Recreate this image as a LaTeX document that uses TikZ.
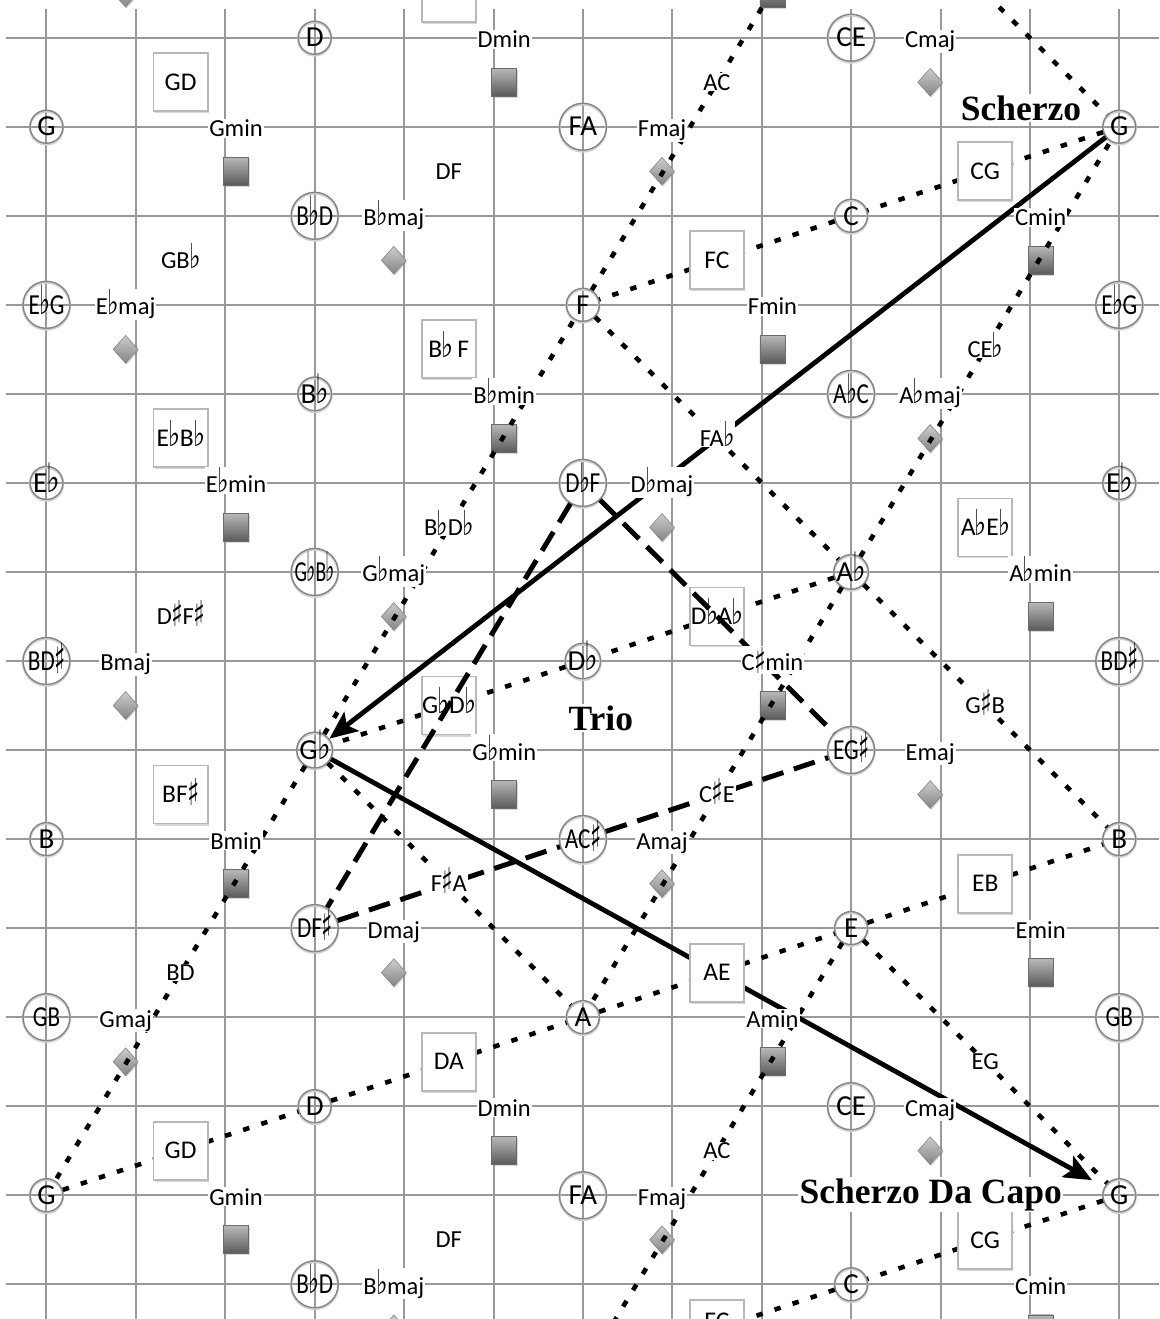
\documentclass[tikz,border=0pt]{standalone}
\usepackage{fontspec}
\usepackage{graphicx}
\usetikzlibrary{arrows.meta,shapes.geometric,shadows}
\newfontfamily\carl{Carlito}
\newfontfamily\djv{DejaVu Sans}
\newfontfamily\bser{Liberation Serif}
\definecolor{gridc}{gray}{0.60}
\definecolor{circc}{gray}{0.52}
\definecolor{boxc}{gray}{0.72}
\definecolor{sqtop}{gray}{0.72}
\definecolor{sqbot}{gray}{0.35}
\definecolor{sqedge}{gray}{0.42}
\definecolor{dtop}{gray}{0.80}
\definecolor{dbot}{gray}{0.52}
\definecolor{dedge}{gray}{0.52}
\newcommand\flt{\kern-0.6pt\scalebox{1.0}[1.4]{\djv ♭}\kern-0.6pt}
\newcommand\shp{\kern-0.6pt\raisebox{-0.1em}{\scalebox{1.0}[1.45]{\djv ♯}}\kern-0.6pt}
\newcommand\labfont{\carl\fontsize{24.5}{26}\selectfont}
\newcommand\boxfont{\carl\fontsize{25.5}{27}\selectfont}
\newcommand\cirfont{\carl\fontsize{29}{31}\selectfont}
\newcommand\bigfont{\bser\bfseries\fontsize{35.5}{40}\selectfont}
\newcommand\sq[1]{\scalebox{0.8}[1]{#1}}
\begin{document}
\begin{tikzpicture}[x=89.4pt,y=-89.04pt,
  gridln/.style={draw=gridc,line width=2pt},
  cshadow/.style={preaction={draw=black!18,line width=2.2pt,transform canvas={yshift=-1.3pt}}},
  smc/.style={circle,draw=circc,line width=1.4pt,minimum size=33pt,inner sep=0pt,font=\cirfont,text height=18.5pt,text depth=0pt,cshadow},
  lgc/.style={smc,minimum size=47pt},
  fifthbox/.style={rectangle,draw=boxc,line width=1.8pt,fill=white,minimum width=54pt,minimum height=58pt,inner sep=0pt,font=\boxfont,text height=16.5pt,text depth=0pt,drop shadow={shadow xshift=1.2pt,shadow yshift=-2pt,opacity=0.35,fill=black!45}},
  chl/.style={font=\labfont,fill=white,inner sep=1pt,anchor=base,yshift=-10pt},
  dyt/.style={font=\labfont,fill=white,inner sep=1pt,anchor=base,yshift=-7.8pt},
  minsq/.style={rectangle,draw=sqedge,line width=0.6pt,top color=sqtop,bottom color=sqbot,minimum width=25pt,minimum height=28pt,inner sep=0pt,drop shadow={shadow xshift=1pt,shadow yshift=-1.5pt,opacity=0.3}},
  majdia/.style={diamond,aspect=0.89,draw=dedge,line width=0.6pt,top color=dtop,bottom color=dbot,minimum width=25pt,minimum height=28pt,inner sep=0pt,drop shadow={shadow xshift=1pt,shadow yshift=-1.5pt,opacity=0.3}},
  dotln/.style={line width=4.6pt,dash pattern=on 6.5pt off 12.5pt},
  dashln/.style={line width=5pt,dash pattern=on 22pt off 11pt},
  sarrow/.style={line width=4.8pt,-{Stealth[length=28pt,width=24pt,inset=6pt]}},
  bigl/.style={font=\bigfont,fill=white,inner sep=1.5pt,anchor=base}
]
\useasboundingbox (-0.5201,-0.4234) rectangle (12.444,14.390);
\fill[white] (-0.5201,-0.4234) rectangle (12.444,14.390);
% grid
\foreach \c in {0,...,12} \draw[gridln] (\c,-0.319) -- (\c,14.390);
\foreach \r in {0,...,14} \draw[gridln] (-0.453,\r) -- (12.444,\r);
% minor squares and major diamonds
\foreach \c/\r [count=\i] in {0/1,0/5,0/9,0/13,3/0,3/4,3/8,3/12,6/3,6/7,6/11,6/-1,9/2,9/6,9/10,9/14}
  \node[minsq] (sq\i) at (\c+2.12,\r+0.5) {};
\foreach \c/\r [count=\i] in {0/3,0/7,0/11,0/-1,3/2,3/6,3/10,3/14,6/1,6/5,6/9,6/13,9/0,9/4,9/8,9/12}
  \node[majdia] (dm\i) at (\c+0.885,\r+0.5) {};
% circles
\node[smc] (c0r1) at (0,1) {G};
\node[lgc] (c0r3) at (0,3) {\sq{E\flt G}};
\node[smc] (c0r5) at (0,5) {E\flt};
\node[lgc] (c0r7) at (0,7) {\sq{BD\shp}};
\node[smc] (c0r9) at (0,9) {B};
\node[lgc] (c0r11) at (0,11) {\sq{GB}};
\node[smc] (c0r13) at (0,13) {G};
\node[smc] (c3r0) at (3,0) {D};
\node[lgc] (c3r2) at (3,2) {\sq{B\flt D}};
\node[smc] (c3r4) at (3,4) {B\flt};
\node[lgc] (c3r6) at (3,6) {\scalebox{0.68}[1]{G\flt B\flt}};
\node[smc] (c3r8) at (3,8) {G\flt};
\node[lgc] (c3r10) at (3,10) {\sq{DF\shp}};
\node[smc] (c3r12) at (3,12) {D};
\node[lgc] (c3r14) at (3,14) {\sq{B\flt D}};
\node[lgc] (c6r1) at (6,1) {FA};
\node[smc] (c6r3) at (6,3) {F};
\node[lgc] (c6r5) at (6,5) {\sq{D\flt F}};
\node[smc] (c6r7) at (6,7) {D\flt};
\node[lgc] (c6r9) at (6,9) {\sq{AC\shp}};
\node[smc] (c6r11) at (6,11) {A};
\node[lgc] (c6r13) at (6,13) {FA};
\node[lgc] (c9r0) at (9,0) {CE};
\node[smc] (c9r2) at (9,2) {C};
\node[lgc] (c9r4) at (9,4) {\sq{A\flt C}};
\node[smc] (c9r6) at (9,6) {A\flt};
\node[lgc] (c9r8) at (9,8) {\sq{EG\shp}};
\node[smc] (c9r10) at (9,10) {E};
\node[lgc] (c9r12) at (9,12) {CE};
\node[smc] (c9r14) at (9,14) {C};
\node[smc] (c12r1) at (12,1) {G};
\node[lgc] (c12r3) at (12,3) {\sq{E\flt G}};
\node[smc] (c12r5) at (12,5) {E\flt};
\node[lgc] (c12r7) at (12,7) {\sq{BD\shp}};
\node[smc] (c12r9) at (12,9) {B};
\node[lgc] (c12r11) at (12,11) {\sq{GB}};
\node[smc] (c12r13) at (12,13) {G};
\coordinate (offA) at (9,-2);
\coordinate (offB) at (6,15);
% dotted connectors
\draw[dotln] (c12r1) -- (c9r2);
\draw[dotln] (c9r2) -- (c6r3);
\draw[dotln] (c6r3) -- (offA);
\draw[dotln] (offA) -- (c12r1);
\draw[dotln] (c6r3) -- (c9r6);
\draw[dotln] (c9r6) -- (c12r9);
\draw[dotln] (c9r6) -- (c12r1);
\draw[dotln] (c9r6) -- (c6r11);
\draw[dotln] (c9r6) -- (c6r7);
\draw[dotln] (c6r7) -- (c3r8);
\draw[dotln] (c3r8) -- (c6r3);
\draw[dotln] (c3r8) -- (c0r13);
\draw[dotln] (c3r8) -- (c6r11);
\draw[dotln] (c6r11) -- (c9r10);
\draw[dotln] (c9r10) -- (c12r9);
\draw[dotln] (c0r13) -- (c3r12);
\draw[dotln] (c3r12) -- (c6r11);
\draw[dotln] (c9r10) -- (c12r13);
\draw[dotln] (c9r10) -- (offB);
\draw[dotln] (c12r13) -- (c9r14);
\draw[dotln] (c9r14) -- (offB);
% solid arrows
\draw[sarrow] (c12r1) -- (c3r8);
\draw[sarrow,shorten >=14pt] (c3r8) -- (c12r13);
% fifth boxes
\node[fifthbox] (b1) at (1.5,0.5) {GD};
\node[fifthbox] (b2) at (1.5,4.5) {E\flt B\flt};
\node[fifthbox] (b3) at (1.5,8.5) {BF\shp};
\node[fifthbox] (b4) at (1.5,12.5) {GD};
\node[fifthbox] (b5) at (4.5,-0.5) {};
\node[fifthbox] (b6) at (4.5,3.5) {B\flt\,F};
\node[fifthbox] (b7) at (4.5,7.5) {G\flt D\flt};
\node[fifthbox] (b8) at (4.5,11.5) {DA};
\node[fifthbox] (b9) at (7.5,2.5) {FC};
\node[fifthbox] (b10) at (7.5,6.5) {D\flt A\flt};
\node[fifthbox] (b11) at (7.5,10.5) {AE};
\node[fifthbox,text depth=14pt,text height=15.5pt] (b12) at (7.5,14.5) {FC};
\node[fifthbox] (b13) at (10.5,1.5) {CG};
\node[fifthbox] (b14) at (10.5,5.5) {A\flt E\flt};
\node[fifthbox] (b15) at (10.5,9.5) {EB};
\node[fifthbox] (b16) at (10.5,13.5) {CG};
% dashed connectors
\draw[dashln] (c6r5) -- (c3r10);
\draw[dashln] (c6r5) -- (c9r8);
\draw[dashln] (c3r10) -- (c6r9);
\draw[dashln] (c6r9) -- (c9r8);
% third dyads (plain text)
\node[dyt] (t1) at (1.5,2.5) {GB\flt};
\node[dyt] (t2) at (1.5,6.5) {D\shp F\shp};
\node[dyt] (t3) at (1.5,10.5) {BD};
\node[dyt] (t4) at (4.5,1.5) {DF};
\node[dyt] (t5) at (4.5,5.5) {B\flt D\flt};
\node[dyt] (t6) at (4.5,9.5) {F\shp A};
\node[dyt] (t7) at (4.5,13.5) {DF};
\node[dyt] (t8) at (7.5,0.5) {AC};
\node[dyt] (t9) at (7.5,4.5) {FA\flt};
\node[dyt] (t10) at (7.5,8.5) {C\shp E};
\node[dyt] (t11) at (7.5,12.5) {AC};
\node[dyt] (t12) at (10.5,3.5) {CE\flt};
\node[dyt] (t13) at (10.5,7.5) {G\shp B};
\node[dyt] (t14) at (10.5,11.5) {EG};
% major chord labels
\node[chl] (M1) at (0.885,3) {E\flt maj};
\node[chl] (M2) at (0.885,7) {Bmaj};
\node[chl] (M3) at (0.885,11) {Gmaj};
\node[chl] (M4) at (3.885,2) {B\flt maj};
\node[chl] (M5) at (3.885,6) {G\flt maj};
\node[chl] (M6) at (3.885,10) {Dmaj};
\node[chl] (M7) at (3.885,14) {B\flt maj};
\node[chl] (M8) at (6.885,1) {Fmaj};
\node[chl] (M9) at (6.885,5) {D\flt maj};
\node[chl] (M10) at (6.885,9) {Amaj};
\node[chl] (M11) at (6.885,13) {Fmaj};
\node[chl] (M12) at (9.885,0) {Cmaj};
\node[chl] (M13) at (9.885,4) {A\flt maj};
\node[chl] (M14) at (9.885,8) {Emaj};
\node[chl] (M15) at (9.885,12) {Cmaj};
% minor chord labels
\node[chl] (m1) at (2.12,1) {Gmin};
\node[chl] (m2) at (2.12,5) {E\flt min};
\node[chl] (m3) at (2.12,9) {Bmin};
\node[chl] (m4) at (2.12,13) {Gmin};
\node[chl] (m5) at (5.12,0) {Dmin};
\node[chl] (m6) at (5.12,4) {B\flt min};
\node[chl] (m7) at (5.12,8) {G\flt min};
\node[chl] (m8) at (5.12,12) {Dmin};
\node[chl] (m9) at (8.12,3) {Fmin};
\node[chl] (m10) at (8.12,7) {C\shp min};
\node[chl] (m11) at (8.12,11) {Amin};
\node[chl] (m12) at (11.12,2) {Cmin};
\node[chl] (m13) at (11.12,6) {A\flt min};
\node[chl] (m14) at (11.12,10) {Emin};
\node[chl] (m15) at (11.12,14) {Cmin};
% section labels
\node[bigl] (scherzo) at (10.90,0.925) {Scherzo};
\node[bigl] (trio) at (6.20,7.775) {Trio};
\node[bigl] (dacapo) at (9.89,13.09) {Scherzo Da Capo};
\end{tikzpicture}
\end{document}
